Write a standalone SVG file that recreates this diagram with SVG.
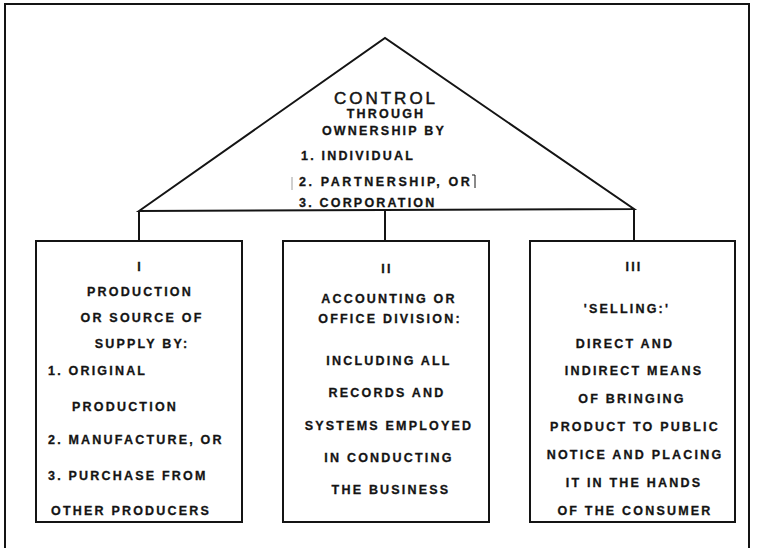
<svg xmlns="http://www.w3.org/2000/svg" width="765" height="548" viewBox="0 0 765 548">
<style>
.ln{fill:none;stroke:#141414;stroke-width:2;stroke-linejoin:miter}
.box{fill:#fff;stroke:#141414;stroke-width:2}
.t{font-family:"Liberation Sans",Arial,sans-serif;font-weight:bold;font-size:12.5px;letter-spacing:2.2px;fill:#141414;stroke:#141414;stroke-width:0.3}
.c{text-anchor:middle}
.big{font-family:"Liberation Sans",Arial,sans-serif;font-size:17px;letter-spacing:3px;fill:#141414;stroke:#141414;stroke-width:0.5;text-anchor:middle}
</style>
<rect width="765" height="548" fill="#fff"/>
<path class="ln" d="M5,548 V4 H749 V548"/>
<g id="connectors">
<line class="ln" x1="139" y1="211" x2="139" y2="241"/>
<line class="ln" x1="385" y1="211" x2="385" y2="241"/>
<line class="ln" x1="634" y1="209" x2="634" y2="241"/>
</g>
<g id="control">
<path class="ln" d="M139,211 L385,38 L634,209 Z"/>
<text class="big" x="386" y="104">CONTROL</text>
<text class="t c" x="386" y="118">THROUGH</text>
<text class="t c" x="384" y="135">OWNERSHIP BY</text>
<text class="t" x="301" y="160">1. INDIVIDUAL</text>
<text class="t" x="299" y="186" style="letter-spacing:2.6px">2. PARTNERSHIP, OR</text>
<path d="M472,175 h3 v13" fill="none" stroke="#141414" stroke-width="1"/>
<line x1="292" y1="177" x2="292" y2="190" stroke="#888" stroke-width="0.8"/>
<text class="t" x="299" y="207">3. CORPORATION</text>
</g>
<g id="production">
<rect class="box" x="36" y="241" width="206" height="281"/>
<text class="t c" x="140" y="271">I</text>
<text class="t c" x="140" y="296">PRODUCTION</text>
<text class="t c" x="142" y="322">OR SOURCE OF</text>
<text class="t c" x="142" y="348">SUPPLY BY:</text>
<text class="t" x="48" y="375">1. ORIGINAL</text>
<text class="t" x="72" y="411">PRODUCTION</text>
<text class="t" x="48" y="444">2. MANUFACTURE, OR</text>
<text class="t" x="48" y="480">3. PURCHASE FROM</text>
<text class="t" x="51" y="515">OTHER PRODUCERS</text>
</g>
<g id="accounting">
<rect class="box" x="283" y="241" width="206" height="281"/>
<text class="t c" x="387" y="273">II</text>
<text class="t c" x="389" y="303">ACCOUNTING OR</text>
<text class="t c" x="390" y="323">OFFICE DIVISION:</text>
<text class="t c" x="389" y="365">INCLUDING ALL</text>
<text class="t c" x="387" y="397">RECORDS AND</text>
<text class="t c" x="389" y="430">SYSTEMS EMPLOYED</text>
<text class="t c" x="389" y="462">IN CONDUCTING</text>
<text class="t c" x="391" y="494">THE BUSINESS</text>
</g>
<g id="selling">
<rect class="box" x="530" y="241" width="205" height="281"/>
<text class="t c" x="634" y="271">III</text>
<text class="t c" x="627" y="313">'SELLING:'</text>
<text class="t c" x="625" y="348">DIRECT AND</text>
<text class="t c" x="634" y="375">INDIRECT MEANS</text>
<text class="t c" x="632" y="403">OF BRINGING</text>
<text class="t c" x="635" y="431">PRODUCT TO PUBLIC</text>
<text class="t c" x="635" y="459">NOTICE AND PLACING</text>
<text class="t c" x="634" y="487">IT IN THE HANDS</text>
<text class="t c" x="635" y="515">OF THE CONSUMER</text>
</g>
</svg>
